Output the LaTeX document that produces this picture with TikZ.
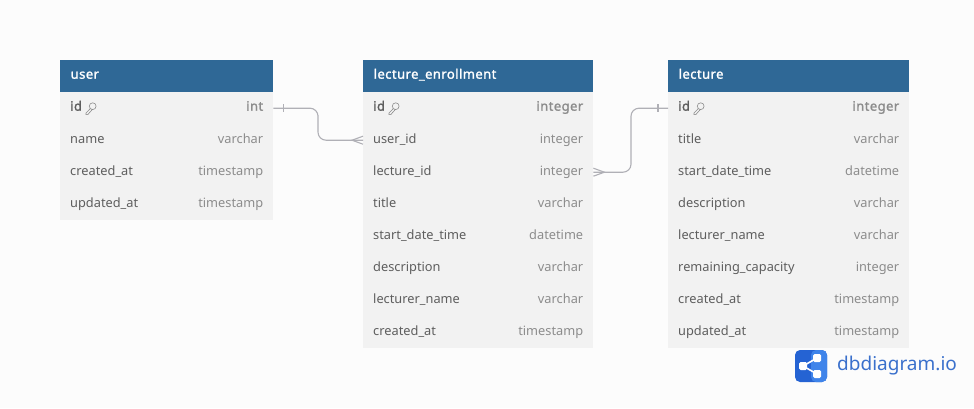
\documentclass[tikz,border=0pt]{standalone}
\usepackage{fontspec}
\setmainfont{Noto Sans}
\newfontfamily\boldFace{Noto Sans}[FakeBold=1.5, LetterSpace=3.4]
\usetikzlibrary{positioning}
\definecolor{pageColor}{HTML}{FCFCFC}
\definecolor{headColor}{HTML}{2F6896}
\definecolor{rowColor}{HTML}{F2F2F2}
\definecolor{fieldColor}{HTML}{5E5E5E}
\definecolor{kindColor}{HTML}{8C8C8C}
\definecolor{linkColor}{HTML}{B0B0B6}
\definecolor{logoDark}{HTML}{2563D3}
\definecolor{logoLight}{HTML}{3F84EA}
\definecolor{logoText}{HTML}{3A70CC}
\tikzstyle{diagram} = [x = 1pt, y = -1pt]
\tikzstyle{tableHead} = [fill=headColor, text=white, inner sep=0, anchor=north west, minimum height=32pt, text height=8pt, text depth=3pt, font=\boldFace\fontsize{13}{15}\selectfont, align=left]
\tikzstyle{tableRow} = [fill=rowColor, inner sep=0, anchor=north west, minimum height=32pt]
\tikzstyle{fieldText} = [text=fieldColor, inner sep=0, text height=10pt, text depth=3pt, font=\fontsize{12.8}{15}\selectfont]
\tikzstyle{kindText} = [text=kindColor, inner sep=0, text height=10pt, text depth=3pt, font=\fontsize{12.8}{15}\selectfont]
\tikzstyle{linkLine} = [color=linkColor, line width=1.1pt]
\tikzstyle{keyLine} = [color=kindColor, line width=.6pt]
\newcommand{\keyIcon}[1]{\draw [keyLine, shift={(#1)}] (10.5,-2) circle (3.4) (8.1,.4) -- (3.8,4.8) -- (3.8,6.4) -- (5.6,6.4) -- (10,1.4);}
\newcommand{\tableBox}[5]{
  \node [tableHead, minimum width=#3pt, text width=#3pt - 21pt] (#1Head) at (#2, 60) {#4};
  \node [tableRow, minimum width=#3pt] (#1Row1) at (#2, 92) {};
  \node [fieldText, anchor=west, text height=8pt, font=\boldFace\fontsize{13}{15}\selectfont] (#1Row1Name) at ([xshift=10pt]#1Row1.west) {id};
  \node [kindText, anchor=east, text height=8pt, font=\boldFace\fontsize{13}{15}\selectfont] (#1Row1Kind) at ([xshift=-10pt]#1Row1.east) {#5};
  \keyIcon{#1Row1Name.east}
}
\newcommand{\tableRows}[4]{
  \foreach \field/\kind [count=\row from 2] in {#4} {
    \pgfmathsetmacro{\rowTop}{60 + 32 * \row}
    \node [tableRow, minimum width=#3pt] (#1Row\row) at (#2, \rowTop) {};
    \node [fieldText, anchor=west] (#1Row\row Name) at ([xshift=10pt]#1Row\row.west) {\field};
    \node [kindText, anchor=east] (#1Row\row Kind) at ([xshift=-10pt]#1Row\row.east) {\kind};
  }
}
\begin{document}
\begin{tikzpicture}[diagram]
  \useasboundingbox [fill=pageColor] (0,0) rectangle (974,408);

  \tableBox{user}{60}{213}{user}{int}
  \tableRows{user}{60}{213}{name/varchar, created\_at/timestamp, updated\_at/timestamp}

  \tableBox{enrollment}{363}{230}{lecture\_enrollment}{integer}
  \tableRows{enrollment}{363}{230}{user\_id/integer, lecture\_id/integer, title/varchar, start\_date\_time/datetime, description/varchar, lecturer\_name/varchar, created\_at/timestamp}

  \tableBox{lecture}{668}{241}{lecture}{integer}
  \tableRows{lecture}{668}{241}{title/varchar, start\_date\_time/datetime, description/varchar, lecturer\_name/varchar, remaining\_capacity/integer, created\_at/timestamp, updated\_at/timestamp}

  % user.id to enrollment.user_id
  \coordinate (userBend) at (318, 123);
  \draw [linkLine, rounded corners=8pt] (userRow1.east) -| (userBend) |- (enrollmentRow2.west);
  \draw [linkLine] ([xshift=10pt, yshift=4pt]userRow1.east) -- ([xshift=10pt, yshift=-4pt]userRow1.east);
  \draw [linkLine] ([yshift=4pt]enrollmentRow2.west) -- ([xshift=-11pt]enrollmentRow2.west) -- ([yshift=-4pt]enrollmentRow2.west);

  % lecture.id to enrollment.lecture_id
  \coordinate (lectureBend) at (631, 139);
  \draw [linkLine, rounded corners=8pt] (lectureRow1.west) -| (lectureBend) |- (enrollmentRow3.east);
  \draw [linkLine] ([xshift=-10pt, yshift=4pt]lectureRow1.west) -- ([xshift=-10pt, yshift=-4pt]lectureRow1.west);
  \draw [linkLine] ([yshift=4pt]enrollmentRow3.east) -- ([xshift=11pt]enrollmentRow3.east) -- ([yshift=-4pt]enrollmentRow3.east);

  % logo
  \fill [logoDark, rounded corners=5pt] (795,350) rectangle (827,382);
  \fill [logoLight, rounded corners=5pt] (811,350) -- (827,350) -- (827,382) -- (811,382) -- cycle;
  \draw [white, line width=1.6pt] (817,358) -- (803,366) -- (817,374);
  \fill [white, rounded corners=1.5pt] (799,362) rectangle +(8,8);
  \fill [white, rounded corners=1.5pt] (813,354) rectangle +(8,8);
  \fill [white, rounded corners=1.5pt] (813,370) rectangle +(8,8);
  \node [text=logoText, inner sep=0, anchor=west, font=\fontsize{19}{22}\selectfont] (logoName) at (837,366) {dbdiagram.io};
\end{tikzpicture}
\end{document}
